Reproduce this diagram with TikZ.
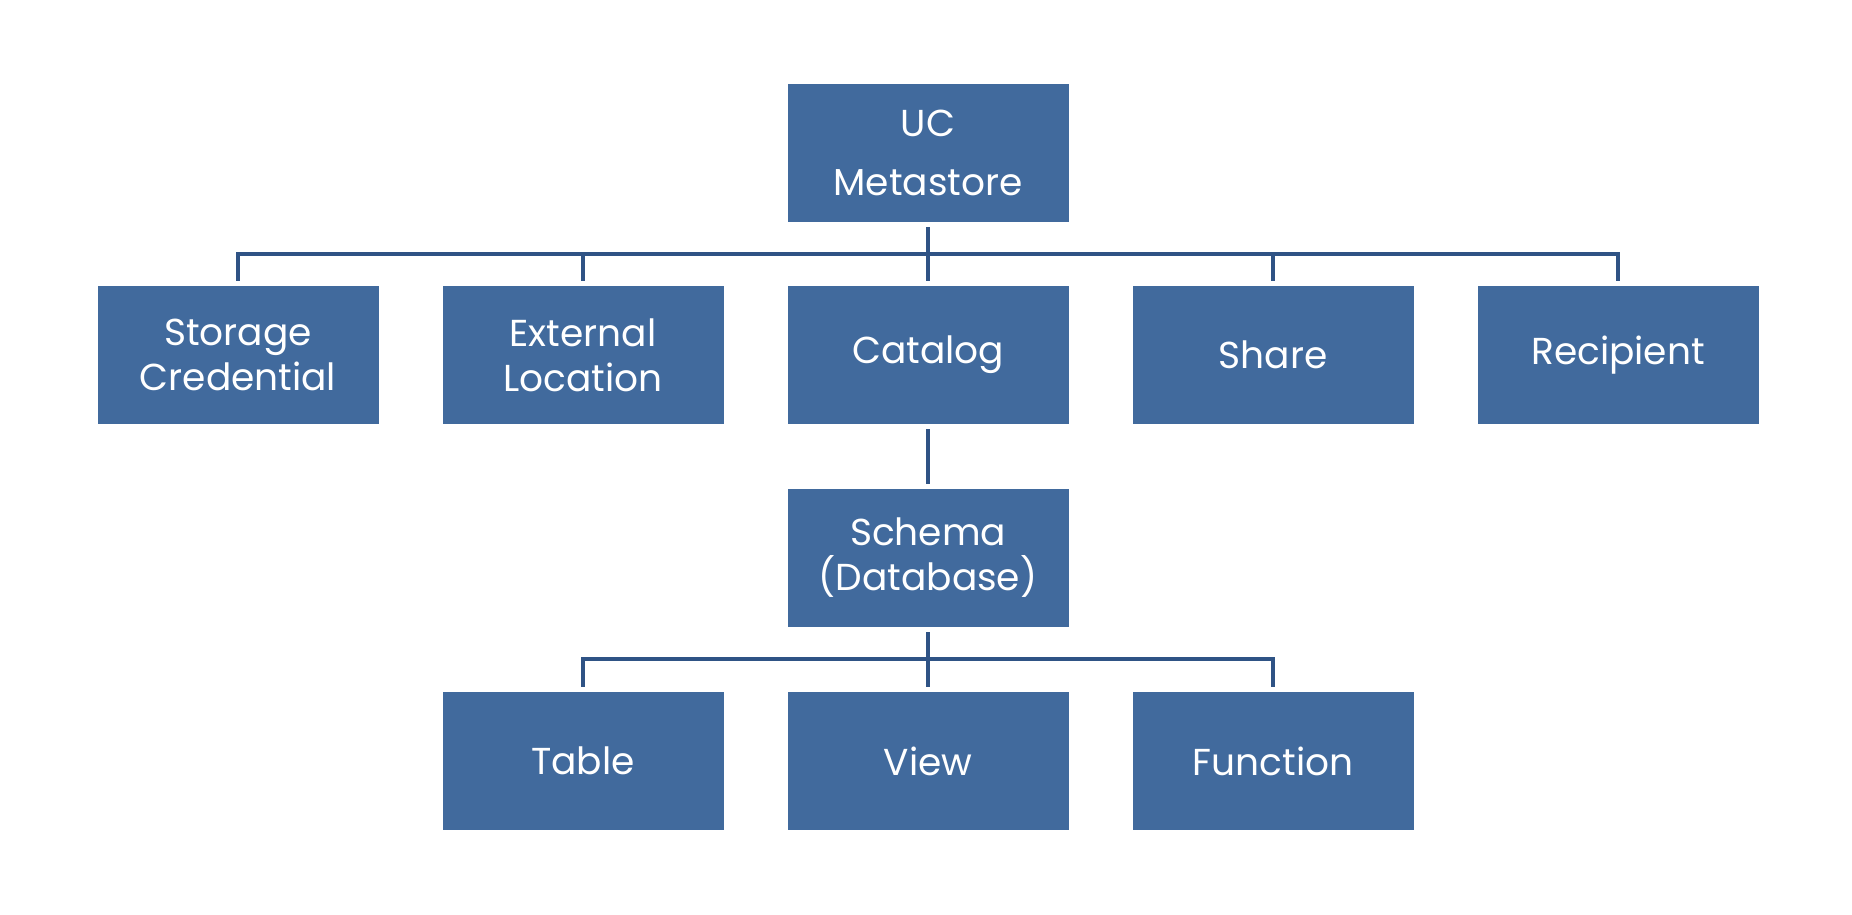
\documentclass[tikz,border=0pt]{standalone}
\usepackage{fontspec}
\setmainfont{Poppins}
\definecolor{boxblue}{HTML}{416A9D}
\definecolor{lineblue}{HTML}{2F5385}
\begin{document}
\begin{tikzpicture}[x=1pt,y=-1pt,
  orgbox/.style={fill=boxblue,draw=none,minimum width=281pt,minimum height=138pt,
    text=white,align=center,inner sep=0pt,font=\fontsize{37.5}{45}\selectfont},
  link/.style={draw=lineblue,line width=3.5pt}]
\useasboundingbox[fill=white] (0,0) rectangle (1852,914);
\node[orgbox] (meta) at (928,153) {UC\\[14pt]Metastore};
\node[orgbox] (stor) at (238,355) {Storage\\Credential};
\node[orgbox] (ext) at (583,355) {External\\Location};
\node[orgbox] (cat) at (928,355) {Catalog};
\node[orgbox] (share) at (1273,355) {Share};
\node[orgbox] (rec) at (1618,355) {Recipient};
\node[orgbox] (schema) at (928,558) {Schema\\(Database)};
\node[orgbox] (tab) at (583,761) {Table};
\node[orgbox] (view) at (928,761) {View};
\node[orgbox] (func) at (1273,761) {Function};
% top tree
\draw[link] ([yshift=-5pt]meta.south) -- ++(0,27) coordinate (hubA);
\draw[link] (hubA) -- (hubA -| stor) -- ([yshift=5pt]stor.north);
\draw[link] (hubA) -- (hubA -| rec) -- ([yshift=5pt]rec.north);
\draw[link] (hubA -| ext) -- ([yshift=5pt]ext.north);
\draw[link] (hubA) -- ([yshift=5pt]cat.north);
\draw[link] (hubA -| share) -- ([yshift=5pt]share.north);
% catalog to schema
\draw[link] ([yshift=-5pt]cat.south) -- ([yshift=5pt]schema.north);
% bottom tree
\draw[link] ([yshift=-5pt]schema.south) -- ++(0,27) coordinate (hubB);
\draw[link] (hubB) -- (hubB -| tab) -- ([yshift=5pt]tab.north);
\draw[link] (hubB) -- (hubB -| func) -- ([yshift=5pt]func.north);
\draw[link] (hubB) -- ([yshift=5pt]view.north);
\end{tikzpicture}
\end{document}
